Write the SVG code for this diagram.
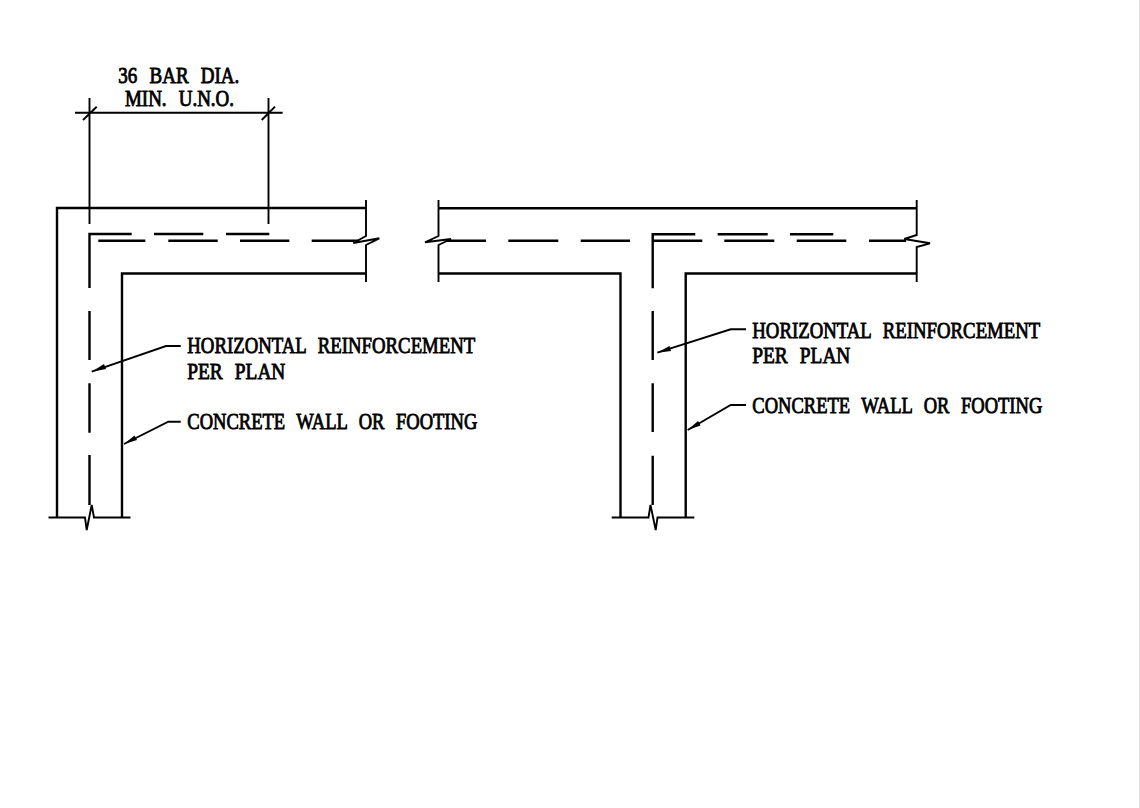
<svg xmlns="http://www.w3.org/2000/svg" width="1140" height="808" viewBox="0 0 1140 808">
<style>
.w{fill:none;stroke:#000;stroke-width:2.4}
.t{fill:none;stroke:#000;stroke-width:1.9}
.a{fill:#000;stroke:none}
text{font-family:"Liberation Serif","Times New Roman",serif;font-size:24px;fill:#000;stroke:#000;stroke-width:.9;word-spacing:9px}
text.d{font-size:23px}
</style>
<rect width="1140" height="808" fill="#fff"/>
<path d="M1139.5 0V808" stroke="#e4e4e4" stroke-width="1" fill="none"/>
<g id="left-corner">
<path class="w" d="M366 208H57V517.5M122 517.5V273.5H366"/>
<path class="t" d="M366 200V236L353.3 243L379.3 238.3L366 245V282"/>
<path class="t" d="M48.5 517.5H85L86.7 530L91.7 505L94 517.5H130.5"/>
<path class="t" d="M89.5 98V224M268.5 98V224M75 112.7H282.7M83 120L96.7 106.7M261.7 120L275 106.7"/>
<path class="w" d="M89.5 288V234H131.7M154 234H203.3M226 234H269.3M98.3 240.7H145.3M168.3 240.7H217.7M240 240.7H289.3M311.7 240.7H358"/>
<path class="w" d="M89.5 311V360M89.5 383.3V432.7M89.5 455V505"/>
</g>
<g id="right-tee">
<path class="w" d="M438.5 208.3H916.7M438.5 273.5H620.5V517.5M685.7 517.5V273.5H916.7"/>
<path class="t" d="M916.7 200V235L904.3 239L930 243.3L916.7 247V282"/>
<path class="t" d="M438.5 200V236L425 242.3L451 239L438.5 245V282"/>
<path class="t" d="M611.7 517.5H648.5L650.5 505L655.7 530L657.5 517.5H694.3"/>
<path class="w" d="M652.7 288.3V234.3H695.3M717.7 234.3H767.7M790 234.3H833.3M446 240.7H486M508.3 240.7H558.3M580.7 240.7H630M652.7 240.7H702.3M724.3 240.7H774.3M796.7 240.7H846.3M869 240.7H906"/>
<path class="w" d="M652.7 311V360M652.7 383.3V432M652.7 455.7V505"/>
</g>
<g id="connectors">
<path class="t" d="M180.7 346H166L91.7 371.7"/>
<path class="a" d="M91.7 371.7L104 364L106 369Z"/>
<path class="t" d="M180.7 421.7H168.3L124 444"/>
<path class="a" d="M124 444L134.5 435.5L137 440Z"/>
<path class="t" d="M746 329.3H730.7L657.3 352.7"/>
<path class="a" d="M657.3 352.7L669.5 346L671 351Z"/>
<path class="t" d="M746 405H730.7L687.7 430"/>
<path class="a" d="M687.7 430L698 421L700.5 425.5Z"/>
</g>
<g id="labels">
<text class="d" x="118.3" y="82.7" textLength="121" lengthAdjust="spacingAndGlyphs">36 BAR DIA.</text>
<text class="d" x="125" y="106" textLength="109" lengthAdjust="spacingAndGlyphs">MIN. U.N.O.</text>
<text x="187.3" y="353.3" textLength="288" lengthAdjust="spacingAndGlyphs">HORIZONTAL REINFORCEMENT</text>
<text x="187.3" y="379" textLength="98" lengthAdjust="spacingAndGlyphs">PER PLAN</text>
<text x="187.3" y="429.3" textLength="290" lengthAdjust="spacingAndGlyphs">CONCRETE WALL OR FOOTING</text>
<text x="752.3" y="337.7" textLength="288" lengthAdjust="spacingAndGlyphs">HORIZONTAL REINFORCEMENT</text>
<text x="752.3" y="362.7" textLength="98" lengthAdjust="spacingAndGlyphs">PER PLAN</text>
<text x="752.3" y="413.3" textLength="290" lengthAdjust="spacingAndGlyphs">CONCRETE WALL OR FOOTING</text>
</g>
</svg>
